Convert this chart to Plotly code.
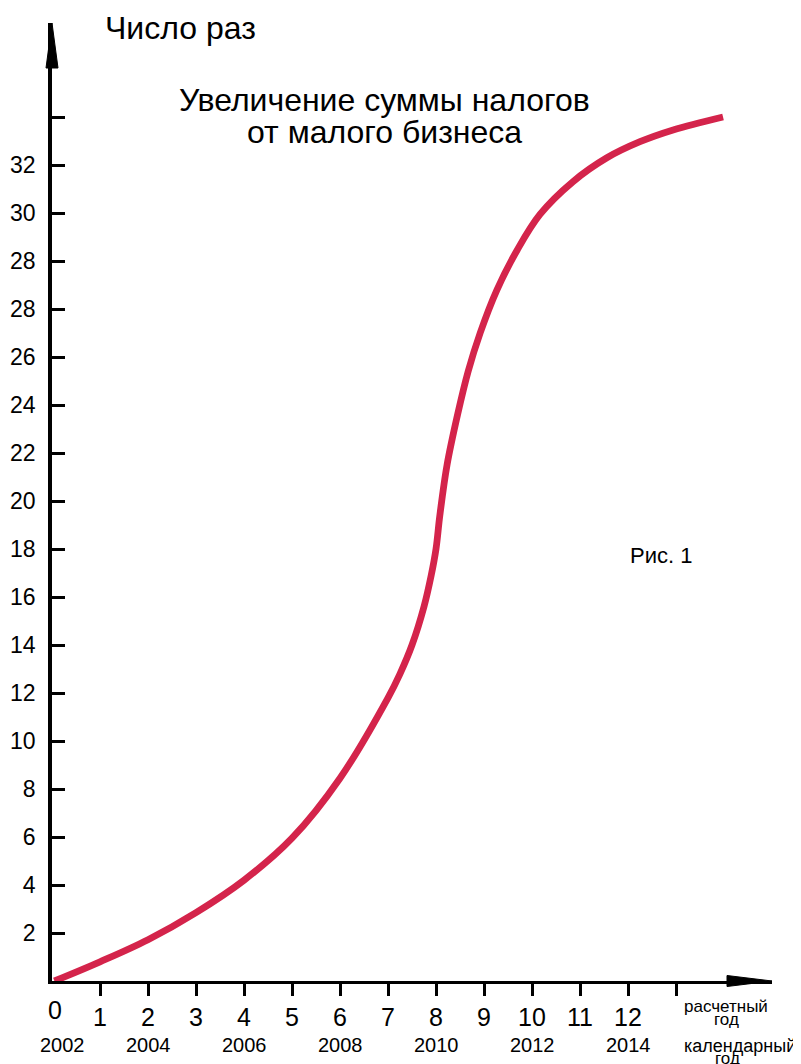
import plotly.graph_objects as go

# --- data ---
# settlement year index (x) and value on the drawn vertical scale (y)
years_idx = [0.05, 1.0, 2.0, 3.0, 4.0, 5.0, 6.0, 7.0, 7.25, 7.5, 7.75, 7.9, 8.0, 8.08,
             8.23, 8.45, 8.67, 8.92, 9.27, 9.69, 10.17, 10.85, 11.56, 12.25, 12.94, 13.98]
growth = [0.0, 0.8, 1.72, 2.85, 4.2, 5.95, 8.45, 11.8, 12.8, 14.0, 15.6, 16.9, 18.0, 19.4,
          21.5, 23.6, 25.4, 27.0, 28.8, 30.45, 31.95, 33.3, 34.3, 34.97, 35.46, 36.0]

y_tickvals = [2, 4, 6, 8, 10, 12, 14, 16, 18, 20, 22, 24, 26, 28, 30, 32, 34, 36]
y_ticktext = ["2", "4", "6", "8", "10", "12", "14", "16", "18", "20", "22", "24", "26",
              "28", "28", "30", "32", ""]

x_tickvals = [1, 2, 3, 4, 5, 6, 7, 8, 9, 10, 11, 12, 13]
x_ticktext = ["1", "2", "3", "4", "5", "6", "7", "8", "9", "10", "11", "12", ""]

calendar_years = [2002, 2004, 2006, 2008, 2010, 2012, 2014]
base_year = 2002

FONT = "Liberation Sans, Arial, sans-serif"
RED = "#D4244B"

fig = go.Figure()
fig.add_trace(go.Scatter(
    x=years_idx, y=growth, mode="lines",
    line=dict(color=RED, width=6.8, shape="spline", smoothing=1.0),
    hoverinfo="skip", showlegend=False, cliponaxis=False,
))

OFF = 8  # page body margin
W, H = 801 - OFF, 1064 - OFF
L, T = 52 - OFF, 23 - OFF
pw, ph = 720, 958
R, B = W - L - pw, H - T - ph

fig.update_layout(
    width=W, height=H,
    margin=dict(l=L, r=R, t=T, b=B, pad=0, autoexpand=False),
    paper_bgcolor="white", plot_bgcolor="white",
    font=dict(family=FONT, color="black"),
    showlegend=False,
    xaxis=dict(range=[0, 15], showgrid=False, zeroline=False, automargin=False,
               showline=True, linecolor="black", linewidth=3,
               tickmode="array", tickvals=x_tickvals, ticktext=x_ticktext,
               ticks="outside", ticklen=12, tickwidth=3, tickcolor="black",
               tickfont=dict(size=25, family=FONT, color="black"),
               fixedrange=True),
    yaxis=dict(range=[0, ph / 24], showgrid=False, zeroline=False, automargin=False,
               showline=True, linecolor="black", linewidth=3.5,
               tickmode="array", tickvals=y_tickvals, ticktext=y_ticktext,
               ticks="inside", ticklen=13, tickwidth=3, tickcolor="black",
               ticklabelstandoff=8,
               tickfont=dict(size=23, family=FONT, color="black"),
               fixedrange=True),
)

# arrowheads (paper coordinates)
fig.add_shape(type="path", xref="paper", yref="paper",
              path=f"M {-6/pw} {1-45/ph} L 0 1 L {6/pw} {1-45/ph} Z",
              fillcolor="black", line=dict(color="black", width=1))
fig.add_shape(type="path", xref="paper", yref="paper",
              path=f"M {1-45/pw} {5.5/ph} L 1 0 L {1-45/pw} {-5.5/ph} Z",
              fillcolor="black", line=dict(color="black", width=1))


def px_ann(x, y, text, size):
    """Place a text centred at window pixel (x, y)."""
    return dict(x=(x - OFF - L) / pw, y=(H - (y - OFF) - B) / ph,
                xref="paper", yref="paper", text=text, showarrow=False,
                xanchor="center", yanchor="middle",
                font=dict(size=size, family=FONT, color="black"))


ann = []
# "0" label at origin
ann.append(dict(x=0, y=0, xref="x", yref="y", text="0", showarrow=False,
                xshift=3, yshift=-29, font=dict(size=25, family=FONT, color="black")))
# calendar years row
for yr in calendar_years:
    ann.append(dict(x=yr - base_year, y=0, xref="x", yref="y", text=str(yr),
                    showarrow=False, xshift=10 if yr == base_year else 0, yshift=-64,
                    font=dict(size=20, family=FONT, color="black")))

# axis captions at right
ann.append(px_ann(726, 1006, "расчетный", 17))
ann.append(px_ann(726, 1020, "год", 17))
ann.append(px_ann(740, 1046, "календарный", 18))
ann.append(px_ann(727, 1058, "год", 17))

# y axis title, chart title, figure label
ann.append(px_ann(180, 28, "Число раз", 32))
ann.append(px_ann(384, 100, "Увеличение суммы налогов", 32))
ann.append(px_ann(384, 132, "от малого бизнеса", 32))
ann.append(px_ann(661, 555, "Рис. 1", 22))

fig.update_layout(annotations=ann)
fig.write_html("out.html")
